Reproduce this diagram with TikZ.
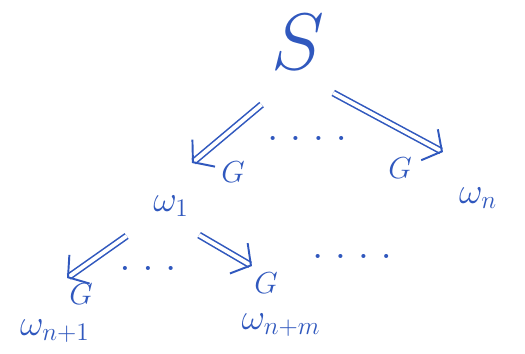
\documentclass[tikz,border=0pt]{standalone}
\usepackage{tikz}
\usetikzlibrary{arrows.meta, calc}
\definecolor{cink}{RGB}{48,88,190}

\begin{document}
\begin{tikzpicture}[x=0.02cm, y=-0.02cm,
    lbl/.style={text=cink, inner sep=1pt, font=\fontsize{20}{24}\selectfont},
    glbl/.style={text=cink, inner sep=1pt, font=\fontsize{17}{20}\selectfont},
    dots/.style={text=cink, inner sep=0pt, anchor=base, font=\fontsize{16}{19}\selectfont\bfseries},
    imp/.style={draw=cink, line width=0.9pt, double=white, double distance=2.2pt,
      -{Straight Barb[length=8pt, width=20pt, line width=1.1pt]}}]

  \useasboundingbox[fill=white] (0,0) rectangle (525,353);

  % --- racine ---
  \node[lbl, scale=2.2] (s) at (298,42) {$S$};

  % --- premier niveau ---
  \node[lbl] (w1) at (171,206) {$\omega_1$};
  \node[lbl] (wn) at (478,198) {$\omega_n$};
  \coordinate (t1) at (192,163);
  \coordinate (t2) at (443,152);
  \draw[imp, shorten <=0.95cm] (s.south) -- (t1);
  \draw[imp, shorten <=0.8cm] (s.south) -- (t2);
  \node[glbl] (g1) at (233,172) {$G$};
  \node[glbl] (g2) at (400,168) {$G$};
  \node[dots] (d1) at (307,140) {. . . .};

  % --- second niveau ---
  \node[lbl] (wn1) at (55,331) {$\omega_{n+1}$};
  \node[lbl] (wnm) at (281,325) {$\omega_{n+m}$};
  \coordinate (t3) at (67,278);
  \coordinate (t4) at (252,266);
  \draw[imp, shorten <=0.6cm] (w1.south west) -- (t3);
  \draw[imp, shorten <=0.65cm] (w1.south) -- (t4);
  \node[glbl] (g3) at (81,294) {$G$};
  \node[glbl] (g4) at (266,283) {$G$};
  \node[dots] (d2) at (148,270) {. . .};
  \node[dots] (d3) at (352,258) {. . . .};
\end{tikzpicture}
\end{document}
